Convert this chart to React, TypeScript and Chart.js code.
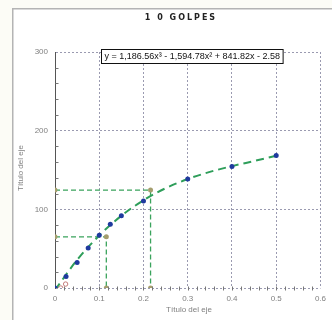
import React, { useEffect, useRef } from "react";
import { Chart, registerables } from "chart.js";

Chart.register(...registerables);

const chartTitle = "1 0 GOLPES";
const xAxisTitle = "Título del eje";
const yAxisTitle = "Título del eje";
const equation = "y = 1,186.56x³ - 1,594.78x² + 841.82x - 2.58";

const xValues = [0, 0.025, 0.05, 0.075, 0.1, 0.125, 0.15, 0.2, 0.3, 0.4, 0.5];
const yValues = [0, 14.5, 32.5, 51, 67, 81, 92, 110.5, 138.5, 154.5, 168.5];

const trendX = [0, 0.05, 0.1, 0.15, 0.2, 0.25, 0.3, 0.35, 0.4, 0.45, 0.5];
const trendY = [-2.6, 35.7, 66.8, 91.8, 111.5, 126.8, 138.5, 147.6, 154.9, 161.4, 168];

const ref1X = [0, 0.116, 0.116];
const ref1Y = [65, 65, 0];
const ref2X = [0, 0.216, 0.216];
const ref2Y = [124.5, 124.5, 0];

const redX = [0.013, 0.024];
const redY = [0, 5];

const xTicks = [0, 0.1, 0.2, 0.3, 0.4, 0.5, 0.6];
const yTicks = [0, 100, 200, 300];

const pts = (xs: number[], ys: number[]) => xs.map((x, i) => ({ x, y: ys[i] }));

const decorPlugin = {
  id: "decor",
  beforeDraw(chart: any) {
    const ctx = chart.ctx;
    ctx.save();
    ctx.fillStyle = "#fcfcf6";
    ctx.fillRect(0, 0, chart.width, chart.height);
    ctx.fillStyle = "#ffffff";
    ctx.fillRect(13, 9, chart.width - 13, chart.height - 9);
    ctx.strokeStyle = "#b4b4b4";
    ctx.lineWidth = 1.5;
    ctx.beginPath();
    ctx.moveTo(12.75, chart.height);
    ctx.lineTo(12.75, 8.75);
    ctx.lineTo(chart.width, 8.75);
    ctx.stroke();
    // title
    ctx.fillStyle = "#222222";
    ctx.font = "bold 8px 'DejaVu Sans'";
    ctx.textAlign = "center";
    ctx.textBaseline = "middle";
    try { (ctx as any).letterSpacing = "2px"; } catch (e) {}
    ctx.fillText(chartTitle, 181, 18);
    try { (ctx as any).letterSpacing = "0px"; } catch (e) {}
    ctx.restore();
  },
  afterDraw(chart: any) {
    const ctx = chart.ctx;
    const xs = chart.scales.x;
    const ys = chart.scales.y;
    ctx.save();
    // minor ticks
    ctx.strokeStyle = "#777777";
    ctx.lineWidth = 1;
    ctx.beginPath();
    const x0 = Math.round(xs.getPixelForValue(0)) + 0.5;
    for (let v = 20; v < 300; v += 20) {
      if (v % 100 === 0) continue;
      const py = Math.round(ys.getPixelForValue(v)) + 0.5;
      ctx.moveTo(x0, py);
      ctx.lineTo(x0 + 3, py);
    }
    const y0 = Math.round(ys.getPixelForValue(0)) + 0.5;
    for (let i = 1; i < 30; i++) {
      const v = i * 0.02;
      const px = Math.round(xs.getPixelForValue(v)) + 0.5;
      ctx.moveTo(px, y0 - 2);
      ctx.lineTo(px, y0 + 2);
    }
    ctx.stroke();
    // axis titles
    ctx.fillStyle = "#808080";
    ctx.font = "8px 'Liberation Sans'";
    ctx.textAlign = "center";
    ctx.textBaseline = "middle";
    ctx.fillText(xAxisTitle, 189, 310);
    ctx.translate(21, 168);
    ctx.rotate(-Math.PI / 2);
    ctx.fillText(yAxisTitle, 0, 0);
    ctx.setTransform(1, 0, 0, 1, 0, 0);
    // equation box
    ctx.font = "9px 'Liberation Sans'";
    ctx.textAlign = "left";
    const w = ctx.measureText(equation).width;
    const bx = 101.5, by = 49.5, bh = 14;
    ctx.fillStyle = "#ffffff";
    ctx.fillRect(bx, by, w + 6, bh);
    ctx.strokeStyle = "#111111";
    ctx.lineWidth = 1;
    ctx.strokeRect(bx, by, w + 6, bh);
    ctx.fillStyle = "#111111";
    ctx.fillText(equation, bx + 3, by + bh / 2 + 0.5);
    ctx.restore();
  },
};

export default function App() {
  const ref = useRef<HTMLCanvasElement>(null);
  useEffect(() => {
    document.body.style.margin = "0";
    const canvas = ref.current!;
    const gridColor = "#9a9ab0";
    const chart = new Chart(canvas, {
      type: "scatter",
      data: {
        datasets: [
          {
            label: "datos",
            data: pts(xValues, yValues),
            showLine: false,
            pointRadius: 2.5,
            pointBackgroundColor: "#1f3a9e",
            pointBorderColor: "#1f3a9e",
            pointBorderWidth: 0,
            order: 1,
          },
          {
            label: "ref-red",
            data: pts(redX, redY),
            showLine: false,
            pointRadius: 2.2,
            pointBackgroundColor: "rgba(0,0,0,0)",
            pointBorderColor: "#c47a7a",
            pointBorderWidth: 1,
            order: 2,
          },
          {
            label: "ref1",
            data: pts(ref1X, ref1Y),
            showLine: true,
            borderColor: "#3aa35c",
            borderWidth: 1.3,
            borderDash: [5, 3],
            pointRadius: 2.5,
            pointBackgroundColor: "#a59e6e",
            pointBorderColor: "#a59e6e",
            pointBorderWidth: 0,
            order: 3,
          },
          {
            label: "ref2",
            data: pts(ref2X, ref2Y),
            showLine: true,
            borderColor: "#3aa35c",
            borderWidth: 1.3,
            borderDash: [5, 3],
            pointRadius: 2.5,
            pointBackgroundColor: "#a59e6e",
            pointBorderColor: "#a59e6e",
            pointBorderWidth: 0,
            order: 4,
          },
          {
            label: "tendencia",
            data: pts(trendX, trendY),
            showLine: true,
            borderColor: "#2e9e5a",
            borderWidth: 2,
            borderDash: [8, 5],
            cubicInterpolationMode: "monotone",
            pointRadius: 0,
            order: 5,
          },
        ],
      },
      options: {
        responsive: false,
        animation: false,
        devicePixelRatio: 1,
        layout: { padding: { top: 52, right: 11, left: 0, bottom: 0 } },
        plugins: {
          legend: { display: false },
          title: { display: false },
          tooltip: { enabled: false },
        },
        scales: {
          x: {
            type: "linear",
            min: 0,
            max: 0.6,
            afterFit: (s: any) => { s.height = 32; },
            afterBuildTicks: (s: any) => { s.ticks = xTicks.map((v) => ({ value: v })); },
            ticks: {
              color: "#808080",
              font: { family: "'Liberation Sans'", size: 8 },
              padding: 6,
              maxRotation: 0,
              callback: (v: any) => String(Number(Number(v).toFixed(1))),
            },
            grid: { color: gridColor, lineWidth: 1, drawTicks: false },
            border: { display: false, dash: [2, 2] },
          },
          y: {
            type: "linear",
            min: 0,
            max: 300,
            afterFit: (s: any) => { s.width = 55; },
            afterBuildTicks: (s: any) => { s.ticks = yTicks.map((v) => ({ value: v })); },
            ticks: {
              color: "#808080",
              font: { family: "'Liberation Sans'", size: 8 },
              padding: 7,
            },
            grid: { color: gridColor, lineWidth: 1, drawTicks: false },
            border: { display: true, color: "#555555", width: 1, dash: [2, 2] },
          },
        },
      },
      plugins: [decorPlugin],
    } as any);
    return () => chart.destroy();
  }, []);
  return <canvas ref={ref} width={332} height={320} style={{ display: "block" }} />;
}
